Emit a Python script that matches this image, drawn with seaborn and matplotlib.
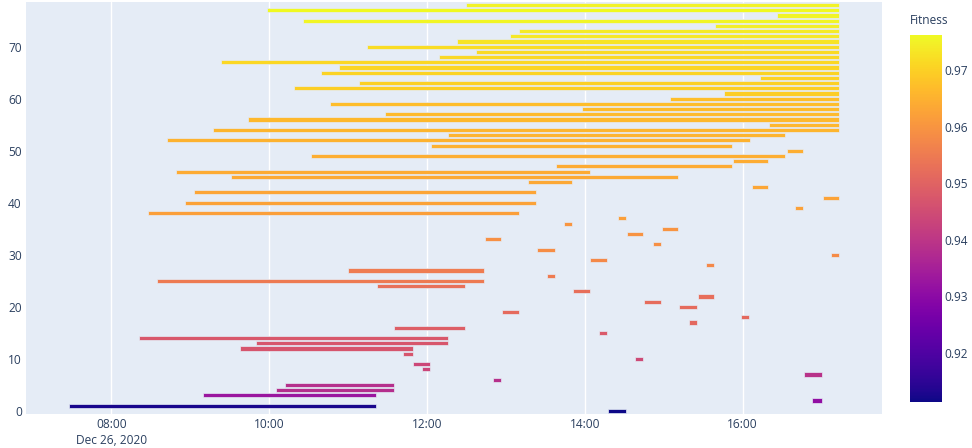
import numpy as np
import pandas as pd
import matplotlib
matplotlib.use("Agg")
import matplotlib.pyplot as plt
import matplotlib.dates as mdates
import seaborn as sns

# run day and the span of each individual (row = index sorted by fitness)
day = "2020-12-26"
start = ["14:18", "07:28", "16:53", "09:10", "10:05", "10:12", "12:50", "16:47", "11:56", "11:49",
         "14:38", "11:42", "09:38", "09:50", "08:21", "14:11", "11:35", "15:19", "15:59", "12:57",
         "15:12", "14:45", "15:26", "13:51", "11:22", "08:35", "13:31", "11:00", "15:32", "14:04",
         "17:07", "13:24", "14:52", "12:44", "14:32", "14:59", "13:44", "14:25", "08:28", "16:40",
         "08:56", "17:01", "09:03", "16:07", "13:17", "09:31", "08:49", "13:38", "15:53", "10:32",
         "16:34", "12:03", "08:42", "12:16", "09:17", "16:20", "09:44", "11:28", "13:58", "10:46",
         "15:05", "15:46", "10:19", "11:08", "16:13", "10:39", "10:53", "09:23", "12:09", "12:37",
         "11:14", "12:23", "13:03", "13:10", "15:39", "10:26", "16:26", "09:58", "12:30"]
end = ["14:31", "11:21", "17:00", "11:21", "11:35", "11:35", "12:56", "17:00", "12:02", "12:02",
       "14:44", "11:49", "11:49", "12:16", "12:16", "14:17", "12:29", "15:25", "16:05", "13:10",
       "15:25", "14:58", "15:38", "14:04", "12:29", "12:43", "13:37", "12:43", "15:38", "14:17",
       "17:13", "13:37", "14:58", "12:56", "14:44", "15:11", "13:50", "14:31", "13:10", "16:46",
       "13:23", "17:13", "13:23", "16:19", "13:50", "15:11", "14:04", "15:52", "16:19", "16:32",
       "16:46", "15:52", "16:06", "16:32", "17:13", "17:13", "17:13", "17:13", "17:13", "17:13",
       "17:13", "17:13", "17:13", "17:13", "17:13", "17:13", "17:13", "17:13", "17:13", "17:13",
       "17:13", "17:13", "17:13", "17:13", "17:13", "17:13", "17:13", "17:13", "17:13"]
fitness = [0.9115, 0.9125, 0.9310, 0.9327, 0.9380, 0.9382, 0.9386, 0.9390, 0.9436, 0.9438,
           0.9445, 0.9468, 0.9470, 0.9472, 0.9474, 0.9480, 0.9490, 0.9510, 0.9512, 0.9515,
           0.9518, 0.9520, 0.9522, 0.9525, 0.9528, 0.9548, 0.9550, 0.9552, 0.9575, 0.9578,
           0.9580, 0.9585, 0.9588, 0.9590, 0.9595, 0.9598, 0.9600, 0.9618, 0.9620, 0.9622,
           0.9625, 0.9627, 0.9630, 0.9632, 0.9635, 0.9636, 0.9638, 0.9640, 0.9641, 0.9643,
           0.9645, 0.9650, 0.9652, 0.9655, 0.9658, 0.9660, 0.9662, 0.9665, 0.9668, 0.9670,
           0.9672, 0.9695, 0.9698, 0.9700, 0.9702, 0.9705, 0.9708, 0.9710, 0.9712, 0.9715,
           0.9718, 0.9730, 0.9735, 0.9740, 0.9745, 0.9755, 0.9752, 0.9760, 0.9750]

x_range = ["06:55", "17:46"]
fit_range = [0.9113, 0.9762]
cbar_ticks = [0.92, 0.93, 0.94, 0.95, 0.96, 0.97]
y_ticks = [0, 10, 20, 30, 40, 50, 60, 70]

df = pd.DataFrame({"Start": pd.to_datetime(day + " " + pd.Series(start)),
                   "Finish": pd.to_datetime(day + " " + pd.Series(end)),
                   "Fitness": fitness})
df["Row"] = df.index

sns.set_theme(style="darkgrid", rc={"axes.facecolor": "#E5ECF6", "grid.color": "white",
                                    "grid.linewidth": 1.0, "axes.edgecolor": "none"})
plt.rcParams["font.family"] = ["Open Sans", "DejaVu Sans"]
text_col = "#2a3f5f"

fig = plt.figure(figsize=(9.72, 4.48), dpi=100)
ax = fig.add_axes([0.0267, 0.0759, 0.8807, 0.9196])

norm = matplotlib.colors.Normalize(vmin=fit_range[0], vmax=fit_range[1])
cmap = plt.get_cmap("plasma")
left = mdates.date2num(df["Start"])
width = mdates.date2num(df["Finish"]) - left
ax.barh(df["Row"], width, left=left, height=0.8, color=cmap(norm(df["Fitness"])),
        edgecolor="#E5ECF6", linewidth=0.5)

ax.set_xlim(mdates.date2num(pd.to_datetime([day + " " + x_range[0], day + " " + x_range[1]])))
ax.set_ylim(-0.6, 78.6)
ax.grid(axis="y", visible=False)
ax.grid(axis="x", visible=True, color="white", linewidth=1)

ax.xaxis.set_major_locator(mdates.HourLocator(byhour=[8, 10, 12, 14, 16]))
def fmt(x, pos):
    d = mdates.num2date(x)
    s = d.strftime("%H:%M")
    if pos == 0:
        s += "\n" + d.strftime("%b %d, %Y")
    return s
ax.xaxis.set_major_formatter(plt.FuncFormatter(fmt))
ax.set_yticks(y_ticks)
ax.tick_params(axis="both", length=0, labelsize=8.6, labelcolor=text_col, pad=3)
for lbl in ax.get_xticklabels():
    lbl.set_linespacing(1.3)
ax.set_xlabel("")
ax.set_ylabel("")

cax = fig.add_axes([910 / 972, 1 - 402 / 448, 32 / 972, 367 / 448])
cb = matplotlib.colorbar.ColorbarBase(cax, cmap=cmap, norm=norm)
cb.outline.set_visible(False)
cb.set_ticks(cbar_ticks)
cb.set_ticklabels([f"{t:.2f}" for t in cbar_ticks])
cax.tick_params(length=0, labelsize=8.6, labelcolor=text_col, pad=2)
cax.grid(False)
fig.text(910 / 972, 1 - 21 / 448, "Fitness", fontsize=8.6, color=text_col, va="center", ha="left")

fig.savefig("out.png", dpi=100, facecolor="white")
